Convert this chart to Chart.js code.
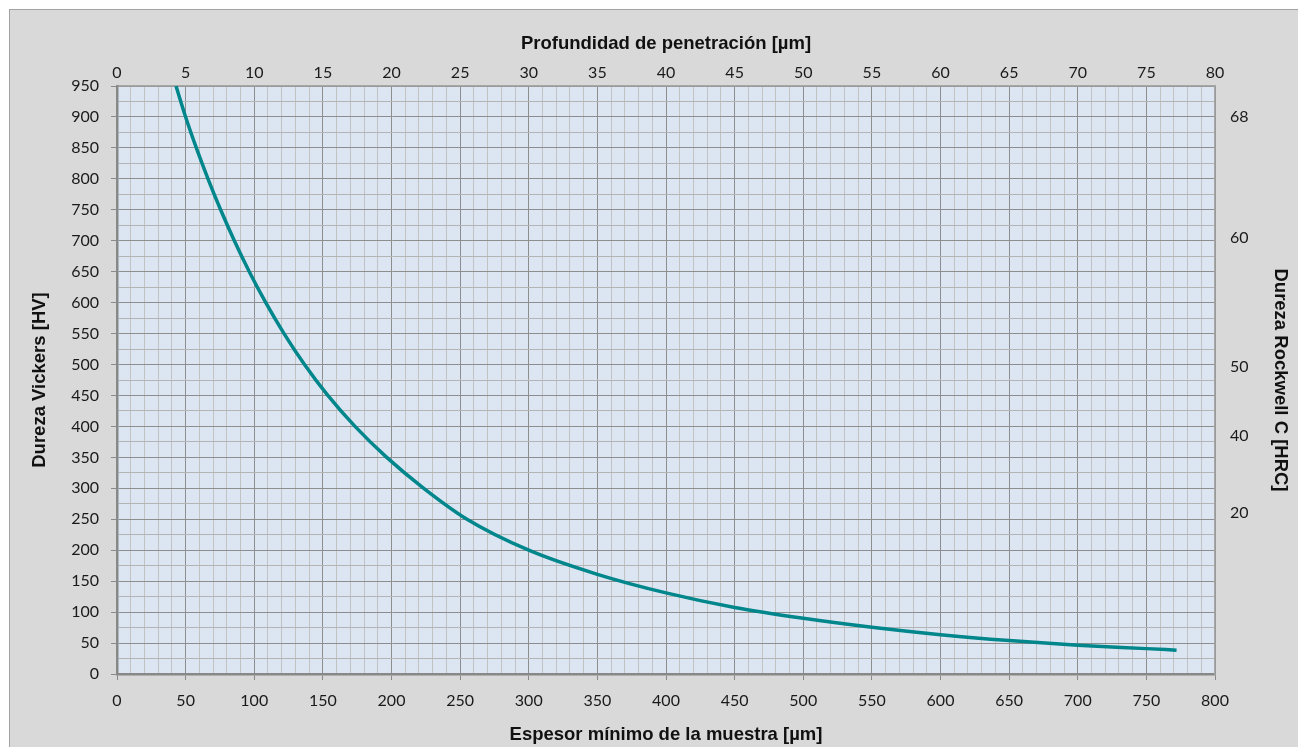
<!DOCTYPE html>
<html>
<head>
<meta charset="utf-8">
<script src="https://cdn.jsdelivr.net/npm/chart.js@4.4.1/dist/chart.umd.min.js"></script>
<style>
    html, body { margin: 0; padding: 0; background: #ffffff; }
    #frame {
        position: absolute; left: 9px; top: 9px; right: 0; bottom: 0;
        background: #d9d9d9;
        border-left: 1px solid #a3a3a3;
        border-top: 1px solid #a3a3a3;
    }
    #wrap { position: absolute; left: 0; top: 0; width: 1298px; height: 747px; }
</style>
</head>
<body>
<div id="frame"></div>
<div id="wrap"><canvas id="chart" width="1298" height="747"></canvas></div>
<script>
// Minimum sample thickness [µm] vs. Vickers hardness [HV]
const thickness = [43, 50, 57.8, 66.3, 75.5, 85.5, 96.4, 108.4, 121.7, 136.6, 153.6, 173.4, 196.5,
    223.5, 255, 300, 350, 400, 450, 500, 550, 600, 650, 700, 750, 772];
const hardnessHV = [950, 900, 850, 800, 750, 700, 650, 600, 550, 500, 450, 400, 350,
    300, 250, 200, 161, 131, 107.5, 90, 75.5, 63.5, 54, 46.5, 41, 38.5];

// Rockwell C scale on the right: position (in HV) and label
const hrcPositions = [900, 705, 497, 385, 260];
const hrcLabels = ['68', '60', '50', '40', '20'];

const MAJOR_GRID = '#8e8e8e';
const MINOR_GRID = '#c2c2c2';
const LINE_COLOR = '#00868b';
const TICK_FONT = { family: 'Lato', size: 16 };
const TITLE_FONT = { family: 'Liberation Sans', size: 18.5, weight: 'bold' };

// Fill the plot area with the pale blue background
const plotBackground = {
    id: 'plotBackground',
    beforeDraw(chart) {
        const { ctx, chartArea: a } = chart;
        ctx.save();
        ctx.fillStyle = '#dce6f2';
        ctx.fillRect(a.left, a.top, a.right - a.left, a.bottom - a.top);
        ctx.restore();
    }
};

const points = thickness.map((x, i) => ({ x: x, y: hardnessHV[i] }));

new Chart(document.getElementById('chart'), {
    type: 'scatter',
    data: {
        datasets: [{
            data: points,
            showLine: true,
            borderColor: LINE_COLOR,
            borderWidth: 3.5,
            pointRadius: 0,
            cubicInterpolationMode: 'monotone',
            xAxisID: 'x',
            yAxisID: 'y',
        }]
    },
    plugins: [plotBackground],
    options: {
        responsive: false,
        animation: false,
        layout: { padding: 0 },
        plugins: {
            legend: { display: false },
            tooltip: { enabled: false },
        },
        scales: {
            x: {
                type: 'linear',
                position: 'bottom',
                min: 0, max: 800,
                afterFit: (s) => { s.height = 73; },
                ticks: {
                    stepSize: 10,
                    autoSkip: false,
                    maxRotation: 0,
                    padding: 11,
                    color: '#1a1a1a',
                    font: TICK_FONT,
                    callback: (v) => (v % 50 === 0 ? String(v) : ''),
                },
                grid: {
                    color: (c) => (c.tick && c.tick.value % 50 === 0 ? MAJOR_GRID : MINOR_GRID),
                    tickColor: (c) => (c.tick && c.tick.value % 50 === 0 ? '#8a8a8a' : 'rgba(0,0,0,0)'),
                    tickLength: 6,
                    lineWidth: 1,
                },
                border: { color: '#888888', width: 2.5 },
                title: {
                    display: true,
                    text: 'Espesor mínimo de la muestra [µm]',
                    color: '#111111',
                    font: TITLE_FONT,
                    padding: { top: 0, bottom: 1 },
                },
            },
            x2: {
                type: 'linear',
                position: 'top',
                min: 0, max: 80,
                afterFit: (s) => { s.height = 86; },
                ticks: {
                    stepSize: 5,
                    maxRotation: 0,
                    padding: 4,
                    color: '#1a1a1a',
                    font: TICK_FONT,
                },
                grid: { drawOnChartArea: false, drawTicks: false },
                border: { color: '#a6a6a6', width: 1.5 },
                title: {
                    display: true,
                    text: 'Profundidad de penetración [µm]',
                    color: '#111111',
                    font: TITLE_FONT,
                    padding: { top: 33, bottom: 0 },
                },
            },
            y: {
                type: 'linear',
                position: 'left',
                min: 0, max: 950,
                afterFit: (s) => { s.width = 117; },
                ticks: {
                    stepSize: 25,
                    autoSkip: false,
                    padding: 12,
                    color: '#1a1a1a',
                    font: TICK_FONT,
                    callback: (v) => (v % 50 === 0 ? String(v) : ''),
                },
                grid: {
                    color: (c) => (c.tick && c.tick.value % 50 === 0 ? MAJOR_GRID : '#b4b4b4'),
                    tickColor: (c) => (c.tick && c.tick.value % 50 === 0 ? '#8a8a8a' : 'rgba(0,0,0,0)'),
                    tickLength: 6,
                    lineWidth: 1,
                },
                border: { color: '#888888', width: 2.5 },
                title: {
                    display: true,
                    text: 'Dureza Vickers [HV]',
                    color: '#111111',
                    font: TITLE_FONT,
                    padding: { top: 29, bottom: 0 },
                },
            },
            y2: {
                type: 'linear',
                position: 'right',
                min: 0, max: 950,
                afterFit: (s) => { s.width = 83; },
                afterBuildTicks: (s) => { s.ticks = hrcPositions.map(v => ({ value: v })); },
                ticks: {
                    padding: 15,
                    color: '#1a1a1a',
                    font: TICK_FONT,
                    callback: (v) => {
                        const i = hrcPositions.indexOf(v);
                        return i >= 0 ? hrcLabels[i] : '';
                    },
                },
                grid: { drawOnChartArea: false, drawTicks: false },
                border: { color: '#a6a6a6', width: 1.5 },
                title: {
                    display: true,
                    text: 'Dureza Rockwell C [HRC]',
                    color: '#111111',
                    font: TITLE_FONT,
                    padding: { top: 7, bottom: 0 },
                },
            },
        }
    }
});
</script>
</body>
</html>
